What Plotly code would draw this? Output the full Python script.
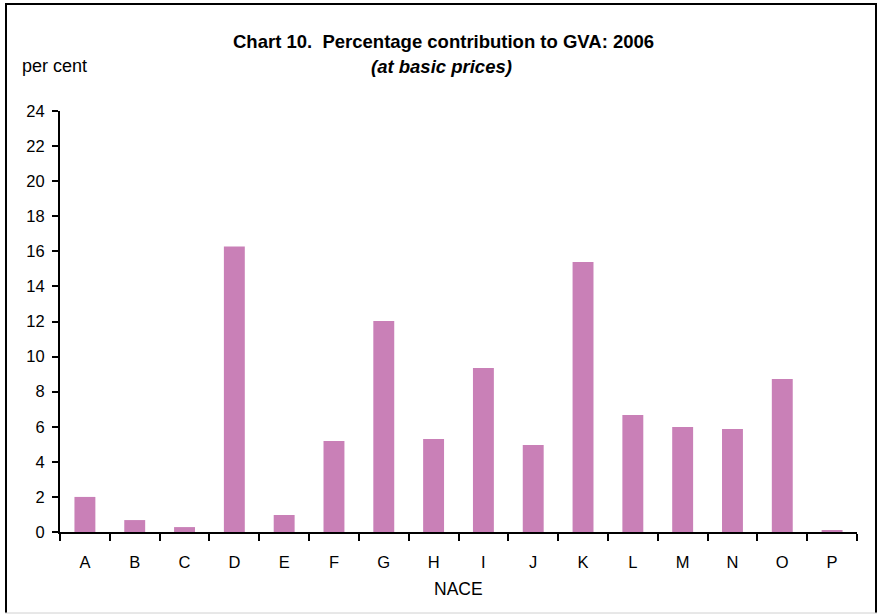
import plotly.graph_objects as go

categories = ["A", "B", "C", "D", "E", "F", "G", "H", "I", "J", "K", "L", "M", "N", "O", "P"]
values = [2.0, 0.68, 0.28, 16.27, 0.97, 5.19, 12.03, 5.30, 9.35, 4.96, 15.39, 6.67, 5.99, 5.87, 8.72, 0.1]
y_ticks = list(range(0, 25, 2))

W, H = 878, 614
L, R, T, B = 60, 21, 111, 82
pw, ph = W - L - R, H - T - B

def px(x):
    return (x - L) / pw

def py(y):
    return (H - B - y) / ph

FONT = "Liberation Sans, Arial, sans-serif"

fig = go.Figure(go.Bar(x=categories, y=values, marker=dict(color="#C980B7", line=dict(width=0))))

fig.update_layout(
    width=W, height=H,
    margin=dict(l=L, r=R, t=T, b=B),
    paper_bgcolor="white", plot_bgcolor="white",
    bargap=0.58,
    showlegend=False,
    font=dict(family=FONT, color="black", size=16),
)
fig.update_xaxes(
    showline=True, linecolor="black", linewidth=2,
    ticks="outside", ticklen=7, tickwidth=2, tickcolor="black",
    tickson="boundaries", showgrid=False,
    tickfont=dict(size=16.5, family=FONT),
    ticklabelstandoff=14,
)
fig.update_yaxes(
    range=[0, 24], tickvals=y_ticks,
    showline=True, linecolor="black", linewidth=2,
    ticks="outside", ticklen=6, tickwidth=2, tickcolor="black",
    showgrid=False, zeroline=False,
    tickfont=dict(size=16.5, family=FONT),
    ticklabelstandoff=4,
)

ann = [
    dict(text="<b>Chart 10.&nbsp; Percentage contribution to GVA: 2006</b>", x=px(443), y=py(42), size=18.5),
    dict(text="<b><i>(at basic prices)</i></b>", x=px(441), y=py(66), size=18.5),
    dict(text="NACE", x=px(458), y=py(589), size=17.5),
]
for a in ann:
    fig.add_annotation(text=a["text"], x=a["x"], y=a["y"], xref="paper", yref="paper",
                       xanchor="center", yanchor="middle", showarrow=False,
                       font=dict(size=a["size"], family=FONT, color="black"))
fig.add_annotation(text="per cent", x=px(20), y=py(66), xref="paper", yref="paper",
                   xanchor="left", yanchor="middle", showarrow=False,
                   font=dict(size=18, family=FONT, color="black"))

# outer frame
fig.add_shape(type="line", xref="paper", yref="paper", x0=px(6), x1=px(6), y0=py(4), y1=py(613),
              line=dict(color="black", width=2))
fig.add_shape(type="line", xref="paper", yref="paper", x0=px(876), x1=px(876), y0=py(4), y1=py(613),
              line=dict(color="black", width=2))
fig.add_shape(type="line", xref="paper", yref="paper", x0=px(5), x1=px(877), y0=py(4), y1=py(4),
              line=dict(color="black", width=2))
fig.add_shape(type="line", xref="paper", yref="paper", x0=px(5), x1=px(877), y0=py(613), y1=py(613),
              line=dict(color="#D0D0D0", width=1))

fig.write_html("out.html", config={"displayModeBar": False},
               post_script="document.body.style.margin='0';document.body.style.overflow='hidden';")
